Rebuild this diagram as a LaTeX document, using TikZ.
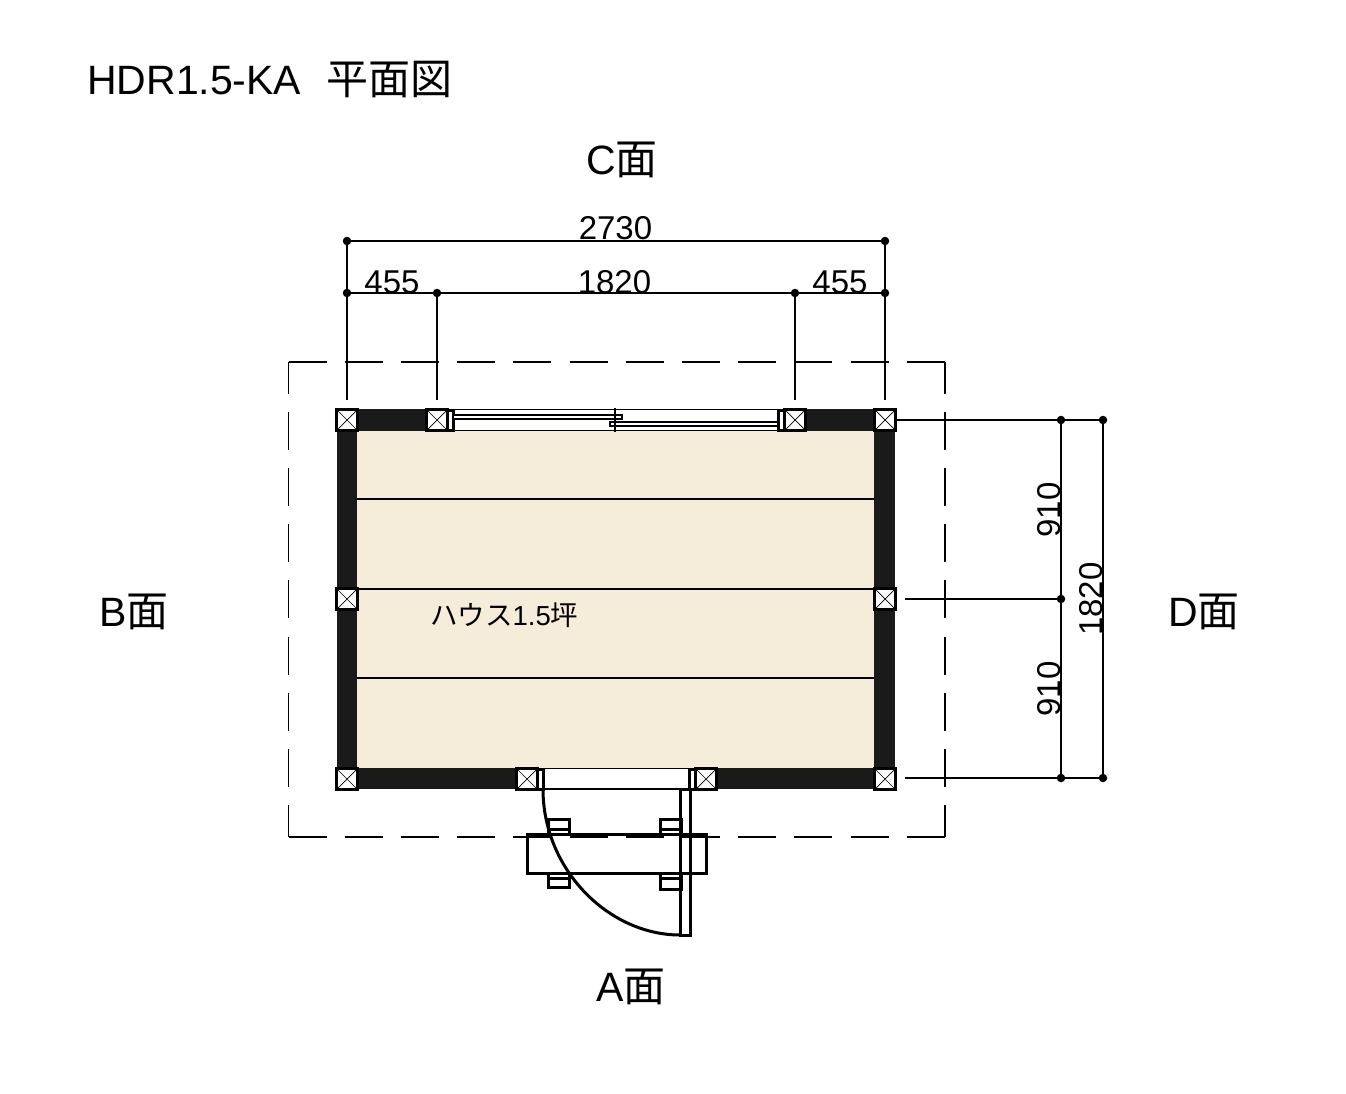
\documentclass[tikz,border=0pt]{standalone}
\usepackage{fontspec}
\setmainfont{Liberation Sans}
\newfontfamily\cjk{Noto Sans CJK JP}
\definecolor{floorc}{HTML}{F5ECDA}
\definecolor{wallc}{HTML}{1A1A1A}
\tikzset{
  thinln/.style={line width=1.05pt,black},
  heavy/.style={line width=3pt,black},
  sash/.style={line width=2.2pt,black,fill=white},
  guideh/.style={line width=1.05pt,black,dash pattern=on 38pt off 18.2pt},
  guidev/.style={line width=1.05pt,black,dash pattern=on 38pt off 18.2pt,dash phase=6.5pt},
  colbox/.style={draw=black,fill=white,line width=3pt,minimum size=20.5pt,inner sep=0pt,
    path picture={\draw[line width=.7pt] (path picture bounding box.north west)--(path picture bounding box.south east)
      (path picture bounding box.north east)--(path picture bounding box.south west);}},
  dot/.style={circle,fill=black,inner sep=0pt,minimum size=8.5pt},
  dim/.style={inner sep=0pt,font=\fontsize{33}{33}\selectfont},
  side/.style={inner sep=0pt,font=\fontsize{41}{41}\selectfont},
}
\newcommand{\bigcjk}[1]{{\cjk\fontsize{42}{42}\selectfont #1}}
\begin{document}
\begin{tikzpicture}[x=1pt,y=-1pt]
\useasboundingbox[fill=white] (0,0) rectangle (1346,1094);
% guide
\draw[guideh] (288.5,362) -- (945,362);
\draw[guideh] (288.5,837) -- (945,837);
\draw[guidev] (288.5,362) -- (288.5,837);
\draw[guidev] (945,362) -- (945,837);
% floor and walls
\fill[floorc] (357,431) rectangle (874,768);
\foreach \yy in {499,589,678} \draw[thinln] (357,\yy) -- (874,\yy);
\fill[wallc] (337,409) rectangle (454,431);
\fill[wallc] (777,409) rectangle (895,431);
\fill[wallc] (337,409) rectangle (357,789);
\fill[wallc] (874,409) rectangle (895,789);
\fill[wallc] (337,768) rectangle (543,789);
\fill[wallc] (689,768) rectangle (895,789);
% window
\fill[white] (454,409.5) rectangle (777,430.5);
\draw[thinln] (454,409.5) -- (777,409.5) (454,430.5) -- (777,430.5);
\draw[heavy,fill=white] (447,410) rectangle (453,430);
\draw[heavy,fill=white] (778,410) rectangle (785,430);
\draw[sash] (453,414.6) rectangle (622,419);
\draw[sash] (610,422) rectangle (778,426.2);
\draw[line width=2.5pt] (615,408) -- (615,432);
% door opening
\fill[white] (543,768.5) rectangle (689,789);
\draw[thinln] (543,768.5) -- (689,768.5) (543,789) -- (689,789);
\draw[heavy,fill=white] (537,769) rectangle (543,789);
\draw[heavy,fill=white] (689,769) rectangle (695,789);
% steps
\draw[heavy] (548,834) |- (569,819) -- (569,834) (548,829) -- (569,829);
\draw[heavy] (660,834) |- (681,819) -- (681,834) (660,829) -- (681,829);
\draw[heavy] (548,875) |- (569,887) -- (569,875) (548,878.5) -- (569,878.5);
\draw[heavy] (660,875) |- (681,889) -- (681,875) (660,878.5) -- (681,878.5);
\draw[heavy] (527,834) rectangle (706,873);
% door leaf
\draw[heavy] (680,789) rectangle (690,935);
\draw[heavy] (543,789) .. controls (543,870) and (609,935) .. (680,935);
% columns
\node[colbox] (c1) at (347,420) {};
\node[colbox] (c2) at (437,420) {};
\node[colbox] (c3) at (795,420) {};
\node[colbox] (c4) at (885,420) {};
\node[colbox] (c5) at (347,599) {};
\node[colbox] (c6) at (885,599) {};
\node[colbox] (c7) at (347,779) {};
\node[colbox] (c8) at (885,779) {};
\node[colbox] (c9) at (527,779) {};
\node[colbox] (c10) at (706,779) {};
% dimension points
\node[dot] (t1) at (347,241) {};
\node[dot] (t2) at (885,241) {};
\node[dot] (u1) at (347,293) {};
\node[dot] (u2) at (437,293) {};
\node[dot] (u3) at (795,293) {};
\node[dot] (u4) at (885,293) {};
\node[dot] (r1) at (1061,420) {};
\node[dot] (r2) at (1061,599) {};
\node[dot] (r3) at (1061,778) {};
\node[dot] (s1) at (1103,420) {};
\node[dot] (s3) at (1103,778) {};
\coordinate (e1) at (347,400);
\coordinate (e2) at (437,400);
\coordinate (e3) at (795,400);
\coordinate (e4) at (885,400);
\coordinate (f2) at (905,599);
\coordinate (f3) at (905,778);
\draw[thinln] (t1) -- (t2) (u1) -- (u4);
\draw[thinln] (t1) -- (e1) (u2) -- (e2) (u3) -- (e3) (t2) -- (e4);
\draw[thinln] (c4) -- (s1) (f2) -- (r2) (f3) -- (s3);
\draw[thinln] (r1) -- (r3) (s1) -- (s3);
% text
\node[anchor=base west,inner sep=0pt,font=\fontsize{41}{41}\selectfont] (title) at (87,95) {HDR1.5-KA\hspace{25pt}\bigcjk{平面図}};
\node[side,anchor=base west] (lc) at (586,175) {C\bigcjk{面}};
\node[side,anchor=base west] (lb) at (99,626) {B\bigcjk{面}};
\node[side,anchor=base west] (ld) at (1168,626) {D\bigcjk{面}};
\node[side,anchor=base west] (la) at (596,1001) {A\bigcjk{面}};
\node[dim,anchor=base] (d1) at (615.5,240) {2730};
\node[dim,anchor=base] (d2) at (392,293) {455};
\node[dim,anchor=base] (d3) at (614.5,293) {1820};
\node[dim,anchor=base] (d4) at (840,293) {455};
\node[dim,anchor=base,rotate=90] (d5) at (1060,510) {910};
\node[dim,anchor=base,rotate=90] (d6) at (1060,689) {910};
\node[dim,anchor=base,rotate=90] (d7) at (1102,599) {1820};
\node[anchor=base west,inner sep=0pt,font=\fontsize{27.5}{27.5}\selectfont] (room) at (430,625) {{\cjk ハウス}1.5{\cjk 坪}};
\end{tikzpicture}
\end{document}
